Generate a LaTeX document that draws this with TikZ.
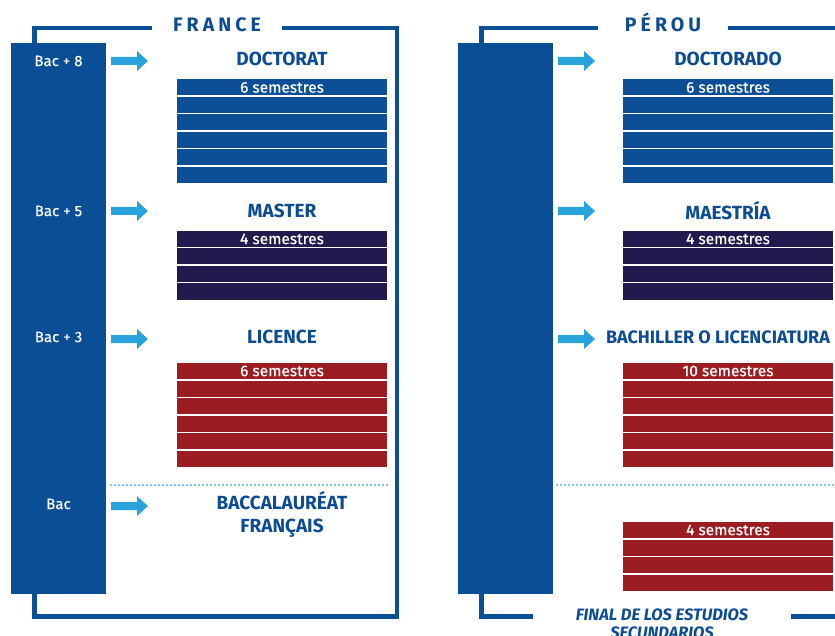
\documentclass[tikz,border=0pt]{standalone}
\usepackage{fontspec}
\setmainfont{Fira Sans}
\definecolor{frameblue}{HTML}{0B4F97}
\definecolor{barblue}{HTML}{0A4E96}
\definecolor{arrowblue}{HTML}{29A3DC}
\definecolor{titleblue}{HTML}{0D4C92}
\definecolor{stackblue}{HTML}{0D4F96}
\definecolor{stacknavy}{HTML}{211A4F}
\definecolor{stackred}{HTML}{9B1C21}
\begin{document}
\begin{tikzpicture}[x=1pt,y=-1pt,
  frameline/.style={draw=frameblue,line width=4.5pt},
  levelbar/.style={fill=barblue,draw=none,minimum width=95pt,minimum height=551pt,inner sep=0pt,anchor=north west},
  baclabel/.style={text=white,font=\fontsize{15}{17}\selectfont\addfontfeature{FakeBold=0.4}},
  title/.style={text=titleblue,font=\fontsize{19}{23}\selectfont\bfseries,align=center},
  country/.style={text=titleblue,anchor=base,font=\fontsize{19.5}{21}\selectfont\bfseries\addfontfeature{LetterSpace=21}},
  rowbox/.style={draw=none,minimum width=210pt,minimum height=16pt,inner sep=0pt},
  semlabel/.style={text=white,font=\fontsize{15.5}{16}\selectfont\addfontfeature{FakeBold=0.5}},
  goarrow/.style={fill=arrowblue,draw=none},
  dotline/.style={draw=arrowblue,line width=2pt,dash pattern=on 0pt off 4pt,line cap=round}
]
\useasboundingbox (0,0) rectangle (835,636);

% ---------- FRANCE frame ----------
\draw[frameline] (152,28) -- (34.5,28) -- (34.5,616.5) -- (397,616.5) -- (397,28) -- (282,28);
\node[country] (fr) at (217,31.5) {FRANCE};

% ---------- PEROU frame ----------
\draw[frameline] (598,28) -- (481.5,28) -- (481.5,616.5) -- (533,616.5);
\draw[frameline] (728,28) -- (835,28);
\draw[frameline] (791,616.5) -- (835,616.5);
\node[country] (pe) at (663,31.5) {PÉROU};
\node[text=titleblue,font=\fontsize{16.5}{17.5}\selectfont\bfseries\itshape,align=center] (fin) at (662,624)
  {FINAL DE LOS ESTUDIOS\\SECUNDARIOS};

% ---------- level bars ----------
\node[levelbar] (frbar) at (11,43) {};
\node[levelbar] (pebar) at (458,43) {};

\node[baclabel] (b8) at (58.5,61) {Bac + 8};
\node[baclabel] (b5) at (58.5,211) {Bac + 5};
\node[baclabel] (b3) at (58.5,337) {Bac + 3};
\node[baclabel] (b0) at (58.5,504) {Bac};

% ---------- arrows ----------
\foreach \xx/\yy in {111/61,111/211,111/339,111/506,558/61,558/211,558/339}{
  \fill[goarrow] (\xx,\yy-4) -- (\xx+26,\yy-4) -- (\xx+26,\yy-10) -- (\xx+37,\yy) -- (\xx+26,\yy+10) -- (\xx+26,\yy+4) -- (\xx,\yy+4) -- cycle;
}

% ---------- titles ----------
\node[title] (tdoc) at (282,59) {DOCTORAT};
\node[title] (tmas) at (282,211) {MASTER};
\node[title] (tlic) at (282,337) {LICENCE};
\node[title] (tbac) at (282,514.5) {BACCALAURÉAT\\FRANÇAIS};
\node[title] (tdoc2) at (728,59) {DOCTORADO};
\node[title] (tmae) at (728,211) {MAESTRÍA};
\node[title,font=\fontsize{18}{20}\selectfont\bfseries] (tbach) at (718,337) {BACHILLER O LICENCIATURA};

% ---------- stacks France ----------
\foreach \i in {0,...,5} \node[rowbox,fill=stackblue] (fd\i) at (282,87.5+17.5*\i) {};
\node[semlabel] (fdl) at (fd0) {6 semestres};
\foreach \i in {0,...,3} \node[rowbox,fill=stacknavy] (fm\i) at (282,239+17.5*\i) {};
\node[semlabel] (fml) at (fm0) {4 semestres};
\foreach \i in {0,...,5} \node[rowbox,fill=stackred] (fl\i) at (282,371+17.5*\i) {};
\node[semlabel] (fll) at (fl0) {6 semestres};

% ---------- stacks Peru ----------
\foreach \i in {0,...,5} \node[rowbox,fill=stackblue] (pd\i) at (728,87.5+17.5*\i) {};
\node[semlabel] (pdl) at (pd0) {6 semestres};
\foreach \i in {0,...,3} \node[rowbox,fill=stacknavy] (pm\i) at (728,239+17.5*\i) {};
\node[semlabel] (pml) at (pm0) {4 semestres};
\foreach \i in {0,...,5} \node[rowbox,fill=stackred] (pl\i) at (728,371+17.5*\i) {};
\node[semlabel] (pll) at (pl0) {10 semestres};
\foreach \i in {0,...,3} \node[rowbox,fill=stackred] (ps\i) at (728,530+17.5*\i) {};
\node[semlabel] (psl) at (ps0) {4 semestres};

% ---------- dotted separators ----------
\draw[dotline] (111,485) -- (387,485);
\draw[dotline] (557,485) -- (835,485);
\end{tikzpicture}
\end{document}
